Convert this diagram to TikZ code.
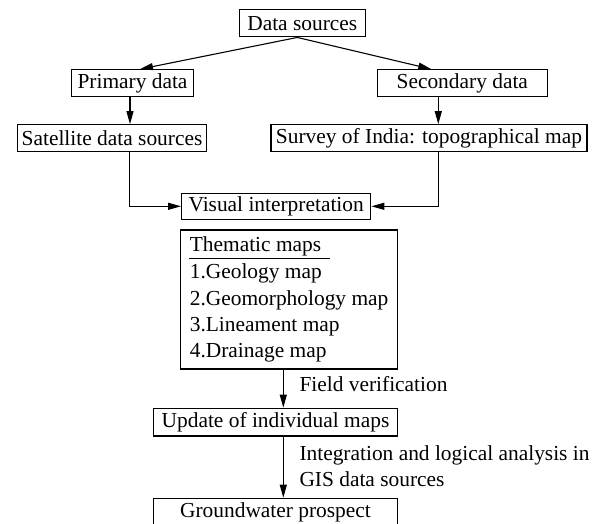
\documentclass[tikz,border=0pt]{standalone}
\usepackage{fontspec}
\setmainfont{Liberation Serif}
\usetikzlibrary{arrows.meta,positioning}

\begin{document}
\begin{tikzpicture}[
        x=1pt, y=-1pt,
        box/.style={
            draw,
            rectangle,
            line width=1.3pt,
            inner sep=0pt,
            minimum height=27pt,
            font=\fontsize{21.4pt}{26.3pt}\selectfont
        },
        lbl/.style={
            inner sep=0pt,
            align=left,
            font=\fontsize{21.4pt}{26.3pt}\selectfont
        },
        arr/.style={
            line width=1.1pt,
            -{Triangle[length=13pt,width=7pt]}
        }
    ]

    % (0,0) at top left, y grows downwards
    \useasboundingbox (0,0) rectangle (597,524);

    % --- boxes ---
    \node[box, minimum width=126pt] (ds) at (302.3,23.3) {Data sources};
    \node[box, minimum width=121.6pt] (prim) at (132.5,83.3) {Primary data};
    \node[box, minimum width=170pt] (sec) at (462.3,83.3) {Secondary data};
    \node[box, minimum width=189.3pt] (sat) at (112,138.3) {Satellite data sources};
    \node[box, minimum width=316pt] (surv) at (429,138.3) {Survey of India: topographical map};
    \node[box, minimum width=189pt, minimum height=26pt] (vis) at (276.2,206.3) {Visual interpretation};
    \node[box, minimum width=217pt, minimum height=139pt, align=left] (them) at (289.1,299.5)
        {Thematic maps\\[1.3pt]1.Geology map\\2.Geomorphology map\\3.Lineament map\\4.Drainage map};
    \node[box, minimum width=244.4pt, minimum height=27.7pt] (upd) at (275.5,422.2) {Update of individual maps};
    \node[box, minimum width=244.4pt, minimum height=27.7pt] (gw) at (275.5,512.2) {Groundwater prospect};

    % underline of the heading
    \draw[line width=1.3pt] ([shift={(9.3pt,-29.3pt)}]them.north west) -- ++(141,0);

    % --- labels next to the arrows ---
    \node[lbl, anchor=base west] (fv) at (299.3,391.7) {Field verification};
    \node[lbl, anchor=north west] (gis) at (299.3,445.4) {Integration and logical analysis in\\GIS data sources};

    % --- arrows ---
    \coordinate (mid) at (283.3,0);
    \draw[arr] ([xshift=-5pt]ds.south) -- ([xshift=7.5pt]prim.north);
    \draw[arr] ([xshift=-5pt]ds.south) -- ([xshift=-31pt]sec.north);
    \draw[arr] ([xshift=-2.5pt]prim.south) -- ([xshift=-2.5pt]prim.south |- sat.north);
    \draw[arr] ([xshift=-24pt]sec.south) -- ([xshift=-24pt]sec.south |- surv.north);
    \draw[arr] ([xshift=17.5pt]sat.south) |- (vis.west);
    \draw[arr] ([xshift=9.3pt]surv.south) |- (vis.east);
    \draw[arr] (them.south -| mid) -- (upd.north -| mid);
    \draw[arr] (upd.south -| mid) -- (gw.north -| mid);

\end{tikzpicture}
\end{document}
